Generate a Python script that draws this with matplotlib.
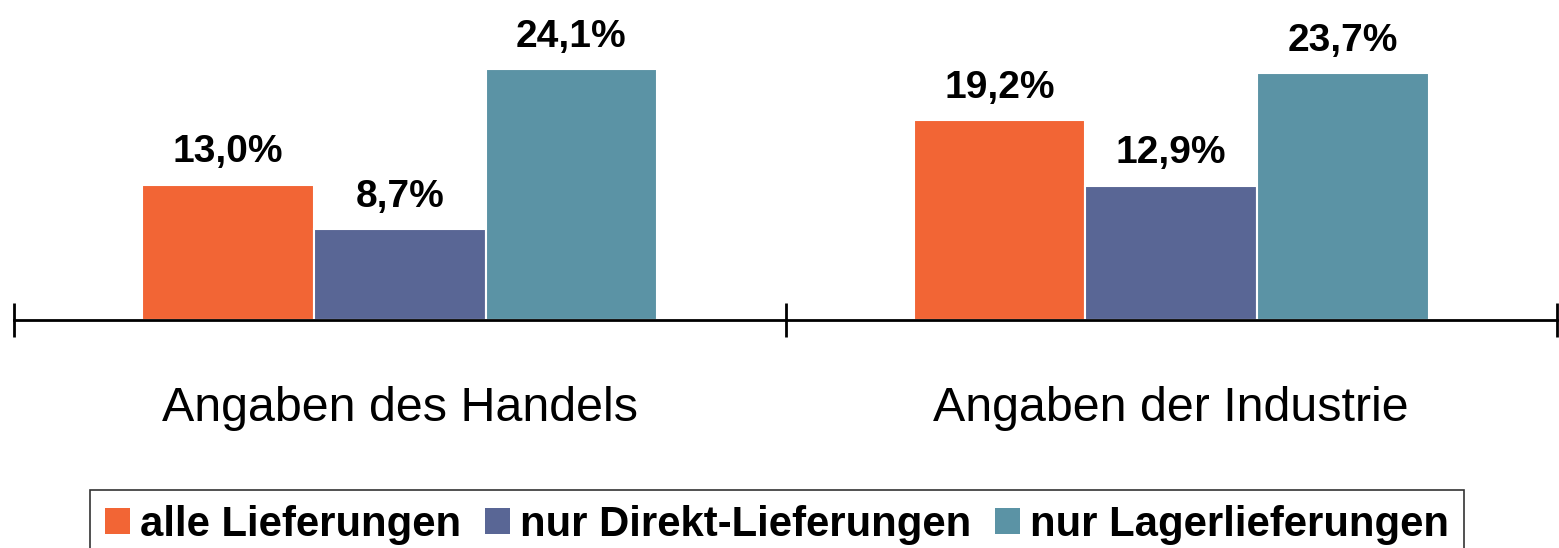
import matplotlib
matplotlib.use("Agg")
import matplotlib.pyplot as plt
from matplotlib.patches import Patch
import numpy as np

categories = ["Angaben des Handels", "Angaben der Industrie"]
series_names = ["alle Lieferungen", "nur Direkt-Lieferungen", "nur Lagerlieferungen"]
alle = [13.0, 19.2]
direkt = [8.7, 12.9]
lager = [24.1, 23.7]
colors = ["#F26535", "#596695", "#5B93A5"]

plt.rcParams['font.family'] = ['Liberation Sans', 'DejaVu Sans']

W, H = 1559, 548
fig = plt.figure(figsize=(W / 100, H / 100), dpi=100)
ax = fig.add_axes([14 / W, 1 - 320 / H, 1543 / W, 320 / H])

x = np.arange(len(categories))
spacing = 0.2225
width = 0.2225
series = [alle, direkt, lager]
for i, (vals, c) in enumerate(zip(series, colors)):
    pos = x + (i - 1) * spacing
    ax.bar(pos, vals, width=width, color=c, edgecolor="white", linewidth=1.5, zorder=2)
    for xp, v in zip(pos, vals):
        ax.annotate(f"{v:.1f}".replace(".", ",") + "%", xy=(xp, v), xytext=(0, 10.5),
                    textcoords="offset points", ha="center", va="bottom",
                    fontsize=28, fontweight="bold", color="black")

ax.set_xlim(-0.5, 1.5)
ax.set_ylim(0, 320 / 10.41)

for s in ["top", "right", "left"]:
    ax.spines[s].set_visible(False)
ax.spines["bottom"].set_linewidth(2)
ax.spines["bottom"].set_color("black")
ax.spines["bottom"].set_zorder(3)
ax.set_yticks([])
ax.set_xticks([-0.5, 0.5, 1.5])
ax.set_xticklabels([])
ax.tick_params(axis="x", direction="inout", length=24.5, width=2, color="black")

for xi, cat in zip(x, categories):
    ax.annotate(cat, xy=(xi, 0), xycoords=("data", "axes fraction"), xytext=(0, -63.5),
                textcoords="offset points", ha="center", va="center", fontsize=34.8,
                annotation_clip=False)

handles = [Patch(facecolor=c, edgecolor="none") for c in colors]
leg = fig.legend(handles, series_names, loc="upper left", bbox_to_anchor=(90 / W, 1 - 490 / H),
                 ncol=3, frameon=True, fancybox=False, edgecolor="black",
                 prop={"size": 30.2, "weight": "bold"}, handlelength=0.6, handleheight=0.6,
                 handletextpad=0.25, columnspacing=0.55, borderpad=0.35, borderaxespad=0)
leg.get_frame().set_linewidth(1.2)

fig.savefig("out.png", dpi=100)
